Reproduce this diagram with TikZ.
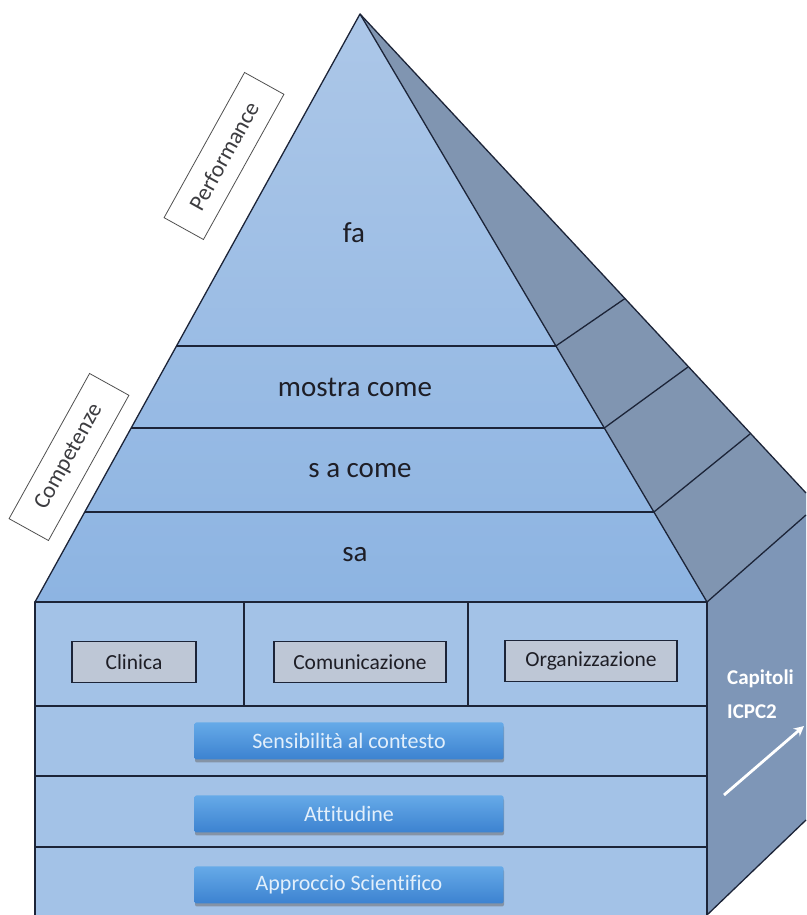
\documentclass[tikz,border=0pt]{standalone}
\usepackage{fontspec}
\setmainfont{Carlito}[Ligatures={NoCommon}]
\usetikzlibrary{arrows.meta,shadows}

\begin{document}
\begin{tikzpicture}[x=1pt,y=1pt,
  edgeline/.style={draw=lineColor,line width=1.3pt,line join=round},
  lvltext/.style={text=textColor,inner sep=0pt,outer sep=0pt,font=\fontsize{29}{34}\selectfont},
  areabox/.style={draw=lineColor,fill=areaFill,line width=1.6pt,minimum width=172pt,minimum height=41pt,inner sep=0pt,text=textColor,font=\fontsize{21.5}{26}\selectfont},
  btnbox/.style={rounded corners=2pt,top color=btnTop,bottom color=btnBottom,minimum width=309pt,minimum height=37pt,inner sep=0pt,text=btnText,font=\fontsize{22}{26}\selectfont,drop shadow={shadow xshift=0.5pt,shadow yshift=-3pt,opacity=0.5,fill=black!60}},
  tagbox/.style={draw=tagLine,fill=white,line width=0.8pt,minimum width=166pt,minimum height=45pt,inner sep=0pt,rotate=61,text=tagText,font=\fontsize{23}{27}\selectfont}]
\definecolor{lineColor}{RGB}{28,36,56}
\definecolor{textColor}{RGB}{30,30,38}
\definecolor{pyrTop}{RGB}{172,199,232}
\definecolor{pyrBottom}{RGB}{141,180,226}
\definecolor{boxFill}{RGB}{163,194,231}
\definecolor{sideColor}{RGB}{128,149,177}
\definecolor{boxSideColor}{RGB}{126,150,183}
\definecolor{areaFill}{RGB}{190,199,214}
\definecolor{btnTop}{RGB}{102,170,232}
\definecolor{btnBottom}{RGB}{60,130,208}
\definecolor{btnText}{RGB}{226,239,251}
\definecolor{tagLine}{RGB}{80,80,80}
\definecolor{tagText}{RGB}{60,60,64}
\path[use as bounding box,fill=white] (0,0) rectangle (806,915);

% side faces
\path[fill=sideColor] (360,901) -- (806,422) -- (806,400) -- (707,313) -- cycle;
\path[fill=boxSideColor] (707,313) -- (806,400) -- (806, 95) -- (707,  0) -- cycle;

% front of the pyramid and of the base
\shade[top color=pyrTop,bottom color=pyrBottom] (360,901) -- (707,313) -- ( 35,313) -- cycle;
\path[fill=boxFill] ( 35,  0) rectangle (707,313);

% pyramid levels
\path[edgeline] (176.5,569) -- (555.9,569);
\path[edgeline] (131.2,487) -- (604.3,487);
\path[edgeline] ( 84.8,403) -- (653.9,403);
\path[edgeline] ( 35,313) -- (360,901) -- (707,313);
\path[edgeline] (360,901) -- (806,422);

% steps on the side face
\path[edgeline] (555.9,569) -- (625,616.5);
\path[edgeline] (604.3,487) -- (688,548);
\path[edgeline] (653.9,403) -- (750,481);
\path[edgeline] (707,313) -- (806,400);
\path[edgeline] (707,  0) -- (806, 95);

% base rows
\path[edgeline] ( 35,  0) -- ( 35,313) -- (707,313) -- (707,  0);
\path[edgeline] ( 35,209) -- (707,209);
\path[edgeline] ( 35,139) -- (707,139);
\path[edgeline] ( 35, 68) -- (707, 68);
\path[edgeline] (244,313) -- (244,209);
\path[edgeline] (468,313) -- (468,209);

\node[lvltext] (fa) at (354,682) {fa};
\node[lvltext] (mostra) at (355,528) {mostra come};
\node[lvltext] (sacome) at (360,444) {s a come};
\node[lvltext] (sa) at (355,360) {sa};

\node[areabox,minimum width=124pt] (clinica) at (134,253) {Clinica};
\node[areabox] (comunicazione) at (360,253) {Comunicazione};
\node[areabox] (organizzazione) at (591,254) {Organizzazione};

\node[btnbox] (sensibilita) at (349,174) {Sensibilità al contesto};
\node[btnbox] (attitudine) at (349,101) {Attitudine};
\node[btnbox] (approccio) at (349, 30) {Approccio Scientifico};

\node[tagbox] (performance) at (224,759) {Performance};
\node[tagbox] (competenze) at ( 69,458) {Competenze};

\node[text=white,anchor=west,inner sep=0pt,font=\bfseries\fontsize{21}{25}\selectfont] (capitoli) at (727,236) {Capitoli};
\node[text=white,anchor=west,inner sep=0pt,font=\bfseries\fontsize{21}{25}\selectfont] (icpc) at (727,203) {ICPC2};
\coordinate (arrowtail) at (724,120);
\coordinate (arrowtip) at (804,189);
\draw[white,line width=2.8pt,-{Stealth[length=10pt,width=10pt]}] (arrowtail) -- (arrowtip);
\end{tikzpicture}
\end{document}
